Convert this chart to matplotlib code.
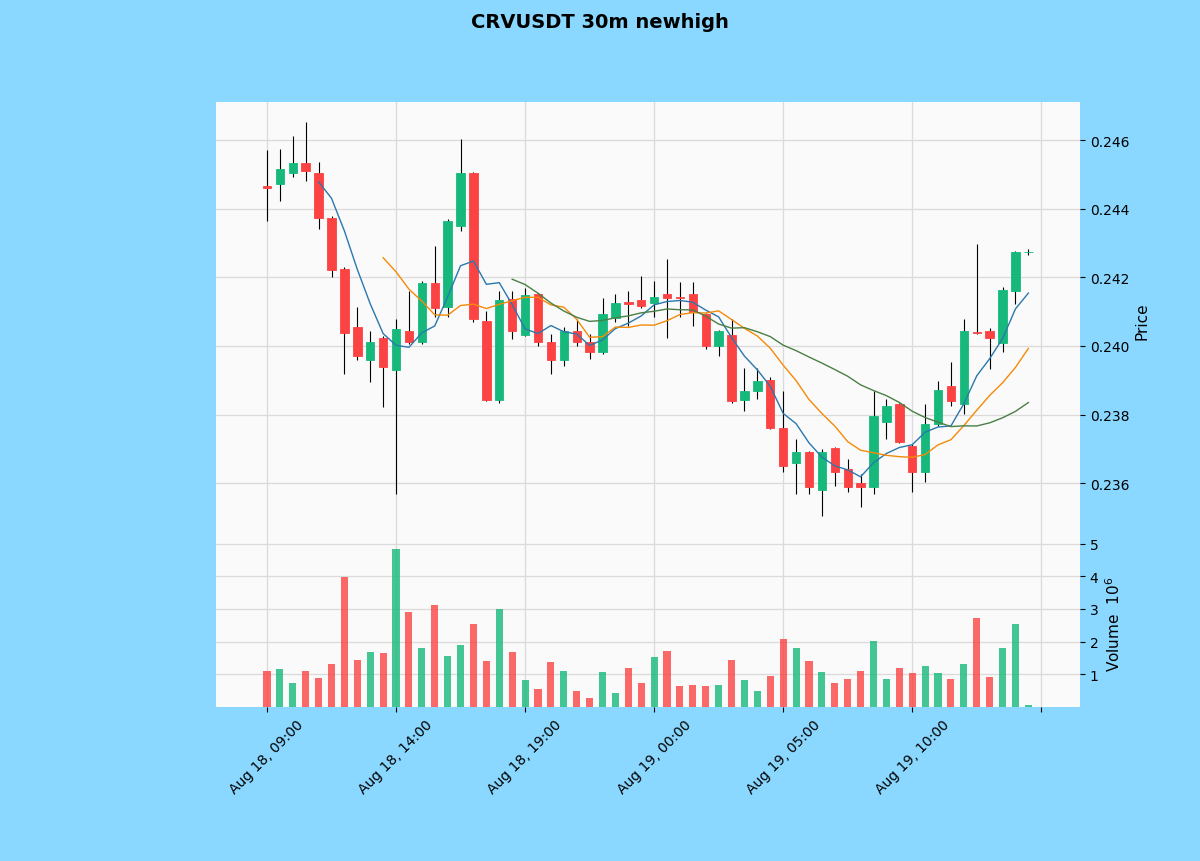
import numpy as np
import pandas as pd
import matplotlib
matplotlib.use("Agg")
import matplotlib.pyplot as plt

# 30m candles, Aug 18 09:00 .. Aug 19 14:30
opens = [0.24465, 0.24472, 0.24503, 0.24533, 0.24503, 0.24373, 0.24224, 0.24054, 0.23959, 0.24023,
         0.23930, 0.24044, 0.24010, 0.24182, 0.24112, 0.24350, 0.24504, 0.24073, 0.23843, 0.24137,
         0.24032, 0.24151, 0.24010, 0.23960, 0.24044, 0.24010, 0.23981, 0.24080, 0.24127, 0.24134,
         0.24124, 0.24151, 0.24144, 0.24151, 0.24093, 0.24000, 0.24032, 0.23843, 0.23869, 0.23900,
         0.23760, 0.23660, 0.23691, 0.23581, 0.23701, 0.23641, 0.23600, 0.23590, 0.23779, 0.23830,
         0.23709, 0.23631, 0.23772, 0.23884, 0.23830, 0.24040, 0.24044, 0.24008, 0.24161, 0.24273]
closes = [0.24460, 0.24515, 0.24532, 0.24511, 0.24373, 0.24221, 0.24039, 0.23971, 0.24010, 0.23939,
          0.24050, 0.24010, 0.24182, 0.24110, 0.24363, 0.24504, 0.24078, 0.23843, 0.24134, 0.24044,
          0.24149, 0.24010, 0.23960, 0.24044, 0.24010, 0.23981, 0.24093, 0.24125, 0.24123, 0.24115,
          0.24143, 0.24141, 0.24140, 0.24098, 0.24000, 0.24044, 0.23840, 0.23869, 0.23898, 0.23760,
          0.23649, 0.23691, 0.23589, 0.23690, 0.23633, 0.23590, 0.23590, 0.23795, 0.23824, 0.23720,
          0.23631, 0.23772, 0.23871, 0.23840, 0.24044, 0.24037, 0.24022, 0.24164, 0.24273, 0.24274]
highs = [0.24570, 0.24574, 0.24613, 0.24652, 0.24536, 0.24378, 0.24230, 0.24114, 0.24044, 0.24030,
         0.24078, 0.24161, 0.24190, 0.24292, 0.24370, 0.24603, 0.24506, 0.24102, 0.24161, 0.24161,
         0.24170, 0.24155, 0.24034, 0.24054, 0.24078, 0.24034, 0.24141, 0.24151, 0.24161, 0.24204,
         0.24190, 0.24253, 0.24185, 0.24185, 0.24096, 0.24047, 0.24078, 0.23937, 0.23937, 0.23910,
         0.23869, 0.23728, 0.23694, 0.23699, 0.23704, 0.23670, 0.23626, 0.23869, 0.23845, 0.23835,
         0.23714, 0.23830, 0.23898, 0.23952, 0.24078, 0.24297, 0.24051, 0.24171, 0.24277, 0.24282]
lows = [0.24365, 0.24423, 0.24492, 0.24481, 0.24341, 0.24200, 0.23918, 0.23960, 0.23894, 0.23821,
        0.23568, 0.24005, 0.24005, 0.24083, 0.24083, 0.24336, 0.24069, 0.23838, 0.23835, 0.24020,
        0.24030, 0.24000, 0.23918, 0.23940, 0.24000, 0.23962, 0.23976, 0.24069, 0.24059, 0.24110,
        0.24083, 0.24022, 0.24083, 0.24059, 0.23990, 0.23971, 0.23833, 0.23810, 0.23845, 0.23758,
        0.23631, 0.23568, 0.23568, 0.23505, 0.23592, 0.23573, 0.23529, 0.23568, 0.23728, 0.23717,
        0.23573, 0.23602, 0.23767, 0.23826, 0.23801, 0.24035, 0.23932, 0.23981, 0.24122, 0.24264]
volumes = [1.11, 1.15, 0.72, 1.11, 0.90, 1.33, 3.98, 1.45, 1.69, 1.66,
           4.84, 2.92, 1.79, 3.13, 1.57, 1.91, 2.55, 1.42, 3.01, 1.69,
           0.81, 0.56, 1.39, 1.11, 0.50, 0.26, 1.08, 0.44, 1.18, 0.72,
           1.54, 1.72, 0.63, 0.66, 0.63, 0.66, 1.45, 0.81, 0.50, 0.96,
           2.09, 1.79, 1.42, 1.08, 0.72, 0.87, 1.11, 2.03, 0.87, 1.18,
           1.05, 1.24, 1.05, 0.87, 1.30, 2.73, 0.93, 1.79, 2.55, 0.05]  # x 1e6

dates = pd.date_range("2023-08-18 09:00", periods=len(opens), freq="30min")
mav_periods = [5, 10, 20]
mav_colors = ["#2a78ad", "#f58a07", "#4a7f45"]

up_color = "#16b97b"
down_color = "#fc4343"

df = pd.DataFrame({"open": opens, "high": highs, "low": lows,
                   "close": closes, "volume": volumes}, index=dates)
x = np.arange(len(df))
up = df["close"] > df["open"]
colors = np.where(up, up_color, down_color)

fig = plt.figure(figsize=(12, 8.62), dpi=100, facecolor="#8ad8ff")
ax = fig.add_axes([0.18, 0.3735, 0.72, 0.507])
axv = fig.add_axes([0.18, 0.1787, 0.72, 0.1948], sharex=ax)

for a in (ax, axv):
    a.set_facecolor("#fafafa")
    a.grid(True, color="#dadada", linewidth=0.9)
    a.set_axisbelow(True)
    for s in a.spines.values():
        s.set_visible(False)
    a.yaxis.tick_right()
    a.yaxis.set_label_position("right")
    a.tick_params(labelsize=10)

# candles
ax.vlines(x, df["low"], df["high"], color="black", linewidth=0.8, zorder=2)
body_lo = np.minimum(df["open"], df["close"])
body_h = np.abs(df["close"] - df["open"])
body_h = np.maximum(body_h, 0.000008)
ax.bar(x, body_h, bottom=body_lo, width=0.65, color=colors,
       edgecolor=colors, linewidth=0.6, zorder=3)

for p, c in zip(mav_periods, mav_colors):
    ax.plot(x, df["close"].rolling(p).mean(), color=c, linewidth=1.0, zorder=4)

ax.set_ylim(0.23437, 0.24711)
ax.set_yticks([0.236, 0.238, 0.240, 0.242, 0.244, 0.246])
ax.set_yticklabels([f"{v:.3f}" for v in ax.get_yticks()])
ax.set_ylabel("Price", fontsize=11)
plt.setp(ax.get_xticklabels(), visible=False)
ax.tick_params(axis="x", length=0)

# volume
axv.bar(x, df["volume"], width=0.55, color=colors, alpha=0.8, zorder=3)
axv.set_ylim(0, 5.14)
axv.set_yticks([1, 2, 3, 4, 5])
axv.set_ylabel("Volume  $10^{6}$", fontsize=11, labelpad=4)

ticks = np.arange(0, 61, 10)
labels = [dates[t].strftime("%b %d, %H:%M") if t < len(dates) else "" for t in ticks]
axv.set_xticks(ticks)
axv.set_xticklabels(labels, rotation=45, fontsize=10)
axv.set_xlim(-3.95, 63.0)

fig.suptitle("CRVUSDT 30m newhigh", fontsize=14, fontweight="bold", y=0.985)

fig.savefig("out.png", dpi=100, facecolor=fig.get_facecolor())
